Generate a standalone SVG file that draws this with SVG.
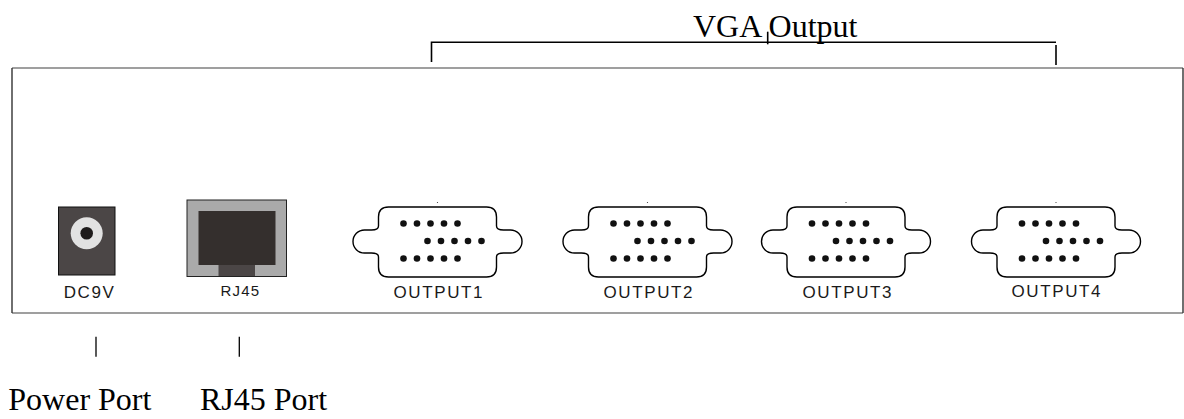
<svg xmlns="http://www.w3.org/2000/svg" width="1184" height="419" viewBox="0 0 1184 419">
<style>
.serif{font-family:"Liberation Serif","Times New Roman",serif;font-size:32px;fill:#000}
.lbl{font-family:"Liberation Sans",Arial,sans-serif;font-size:17px;fill:#1a1a1a;letter-spacing:1.6px;text-anchor:middle}
.shell{fill:#fff;stroke:#000;stroke-width:1.4}
.pin{fill:#111}
.ln{stroke:#000;stroke-width:1.6;fill:none}
</style>
<defs>
<g id="vga">
<path class="shell" d="M-49,207 H49 Q59,207 59,217 V226 Q59,230 66,230 H73 A11.5 11.5 0 0 1 73,253 H66 Q59,253 59,257 V267 Q59,277 49,277 H-49 Q-59,277 -59,267 V257 Q-59,253 -66,253 H-73 A11.5 11.5 0 0 1 -73,230 H-66 Q-59,230 -59,226 V217 Q-59,207 -49,207 Z"/>
<circle cx="0" cy="202.5" r="0.6" fill="#333"/>
<g class="pin">
<circle cx="-34" cy="223.5" r="3.3"/><circle cx="-20.5" cy="223.5" r="3.3"/><circle cx="-7" cy="223.5" r="3.3"/><circle cx="6.5" cy="223.5" r="3.3"/><circle cx="20" cy="223.5" r="3.3"/>
<circle cx="-10" cy="241" r="3.3"/><circle cx="3.5" cy="241" r="3.3"/><circle cx="17" cy="241" r="3.3"/><circle cx="30.5" cy="241" r="3.3"/><circle cx="44" cy="241" r="3.3"/>
<circle cx="-34" cy="258.5" r="3.3"/><circle cx="-20.5" cy="258.5" r="3.3"/><circle cx="-7" cy="258.5" r="3.3"/><circle cx="6.5" cy="258.5" r="3.3"/><circle cx="20" cy="258.5" r="3.3"/>
</g>
</g>
</defs>
<rect width="1184" height="419" fill="#fff"/>
<g id="panel">
<line x1="12" y1="68" x2="1183" y2="68" stroke="#7f7f7f" stroke-width="1.6"/>
<line x1="12" y1="313" x2="1183" y2="313" stroke="#7f7f7f" stroke-width="1.6"/>
<line x1="12" y1="68" x2="12" y2="313" stroke="#333" stroke-width="1.4"/>
<line x1="1183" y1="68" x2="1183" y2="313" stroke="#333" stroke-width="1.4"/>
</g>
<g id="dc9v">
<rect x="58.5" y="207" width="56.5" height="68" fill="#4b4646" stroke="#111" stroke-width="1"/>
<circle cx="86.7" cy="233.3" r="16" fill="#e2e2e2"/>
<circle cx="86.7" cy="233.3" r="6.3" fill="#1e1b1b"/>
<text class="lbl" x="89.5" y="298">DC9V</text>
</g>
<g id="rj45">
<rect x="187" y="200" width="99.5" height="76.5" fill="#aaaaaa" stroke="#222" stroke-width="1"/>
<rect x="198.5" y="211" width="77" height="54" fill="#342f2d"/>
<rect x="218.5" y="265" width="36.5" height="11" fill="#4b4646"/>
<text class="lbl" x="240.5" y="296" style="font-size:15px;letter-spacing:1.2px">RJ45</text>
</g>
<g id="output1">
<use href="#vga" x="437.5"/>
<text class="lbl" x="438.8" y="298">OUTPUT1</text>
</g>
<g id="output2">
<use href="#vga" x="647.5"/>
<text class="lbl" x="648.8" y="298">OUTPUT2</text>
</g>
<g id="output3">
<use href="#vga" x="846"/>
<text class="lbl" x="847.8" y="298">OUTPUT3</text>
</g>
<g id="output4">
<use href="#vga" x="1056"/>
<text class="lbl" x="1056.8" y="297">OUTPUT4</text>
</g>
<g id="connectors">
<path class="ln" d="M431.5,62 V42.3 H1056"/>
<line class="ln" x1="1056" y1="45" x2="1056" y2="65"/>
<line class="ln" x1="767.7" y1="31.7" x2="767.7" y2="44.3"/>
<line class="ln" x1="96" y1="336.7" x2="96" y2="356.7" style="stroke-width:1.3"/>
<line class="ln" x1="239.3" y1="336.7" x2="239.3" y2="356.7" style="stroke-width:1.3"/>
</g>
<g id="labels">
<text class="serif" x="693" y="36.7">VGA Output</text>
<text class="serif" x="8.3" y="410">Power Port</text>
<text class="serif" x="200" y="410">RJ45 Port</text>
</g>
</svg>
